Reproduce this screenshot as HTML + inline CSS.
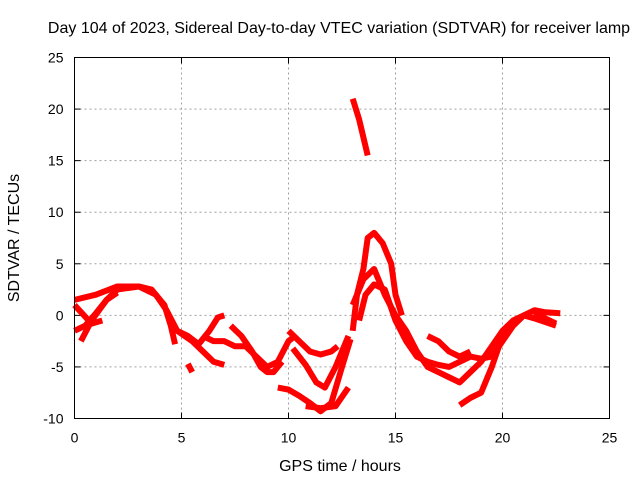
<!DOCTYPE html>
<html><head><meta charset="utf-8"><style>
body{margin:0;background:#fff}
svg{display:block;font-family:"Liberation Sans",sans-serif}
</style></head><body>
<svg id="chart" width="640" height="480" viewBox="0 0 640 480">
<rect width="640" height="480" fill="#fff"/>
<text x="339" y="33" font-size="16" text-anchor="middle">Day 104 of 2023, Sidereal Day-to-day VTEC variation (SDTVAR) for receiver lamp</text>
<text x="340" y="471" font-size="16" text-anchor="middle">GPS time / hours</text>
<text transform="translate(19,238) rotate(-90)" font-size="16" text-anchor="middle">SDTVAR / TECUs</text>
<g id="grid"></g><g id="ticks"></g><g id="series"></g>
<rect x="74.5" y="57.5" width="535" height="361" fill="none" stroke="#000" stroke-width="1"/>
</svg>
<script>
const xTicks=[0,5,10,15,20,25];
const yTicks=[-10,-5,0,5,10,15,20,25];
const s1=[[0,1.5],[1,2],[2,2.8],[3,2.8],[3.6,2.5],[4.2,1],[4.5,-1],[4.7,-2.8]];
const s2=[[0,-1.5],[0.5,-1],[1,0.2],[1.5,1.5],[2,2.5],[3,2.8],[3.8,2],[4.3,0.5],[4.8,-1.5],[5.5,-2.5],[6,-3.5],[6.5,-4.5],[7,-4.8]];
const s3=[[0,1],[0.8,-0.8],[1.3,-0.5]];
const s4=[[0.3,-2.5],[0.8,-0.5],[1.5,1.5],[2,2.2]];
const s5=[[4.8,-1.5],[5.3,-2],[5.8,-2.8],[6.3,-1.5],[6.7,-0.2],[7,0]];
const s6=[[6,-2],[6.5,-2.5],[7,-2.5],[7.5,-3],[8,-3],[8.5,-4],[9,-5],[9.5,-4.5],[10,-2.5],[10.3,-2]];
const s7=[[7.3,-1],[7.8,-2],[8.3,-3.5],[8.7,-5],[9,-5.5],[9.3,-5.5],[9.7,-4.5]];
const s8=[[5.3,-4.7],[5.5,-5.5]];
const s9=[[10,-1.5],[10.5,-2.5],[11,-3.5],[11.5,-3.8],[12,-3.5],[12.3,-3]];
const s10=[[10.2,-3.2],[10.8,-4.8],[11.3,-6.5],[11.7,-7],[12.2,-5],[12.5,-3.5],[12.8,-2]];
const s11=[[9.5,-7],[10,-7.2],[10.5,-7.8],[11,-8.5],[11.5,-9.3],[12,-8.5],[12.5,-5],[12.9,-2.3]];
const s12=[[10.8,-8.8],[11.5,-9],[12.2,-8.8],[12.8,-7]];
const s13=[[13,-1.5],[13.2,2],[13.5,4.5],[13.7,7.5],[14,8],[14.4,7],[14.8,5],[15,2],[15.3,0]];
const s14=[[13,1],[13.5,3.5],[14,4.5],[14.5,2],[15,0],[15.5,-1.5],[16,-3.5],[16.5,-5],[17,-5.5],[17.5,-6],[18,-6.5],[18.5,-5.5],[19,-4.5],[19.5,-3],[20,-1.5],[20.5,-0.5],[21,0],[21.5,0.5],[22,0.3],[22.7,0.2]];
const s15=[[13.3,-0.5],[13.6,2],[14,3],[14.5,2.5],[15,-0.5],[15.5,-2.5],[16,-4],[16.5,-4.5],[17,-4.8],[17.5,-5],[18,-4.5],[18.5,-4],[19,-4.2],[19.5,-4],[20,-2.5],[20.5,-1],[21,0],[21.5,-0.3],[22.5,-1]];
const s16=[[16.5,-2],[17,-2.5],[17.5,-3.5],[18,-4],[18.5,-3.5]];
const s17=[[18,-8.7],[18.5,-8],[19,-7.5],[19.5,-5],[20,-2],[20.5,-0.5]];
const s18=[[13,21],[13.3,19],[13.7,15.5]];
const s19=[[21.5,0.3],[22,-0.3],[22.5,-0.8]];
const allSeries=[s1,s2,s3,s4,s5,s6,s7,s8,s9,s10,s11,s12,s13,s14,s15,s16,s17,s18,s19];
const X0=74.5,X1=609.5,Y0=418.5,Y1=57.5;
const xs=v=>X0+(v-0)/25*(X1-X0);
const ys=v=>Y0-(v+10)/35*(Y0-Y1);
const NS='http://www.w3.org/2000/svg';
const grid=document.getElementById('grid'),ticks=document.getElementById('ticks'),ser=document.getElementById('series');
function mk(tag,attrs,parent){const e=document.createElementNS(NS,tag);for(const k in attrs)e.setAttribute(k,attrs[k]);parent.appendChild(e);return e;}
xTicks.forEach(t=>{const x=xs(t);
 if(t>0&&t<25){const g=mk('line',{x1:x,x2:x,y1:Y1,y2:Y0,stroke:'#a0a0a0','stroke-dasharray':'2,3'},grid);
 
 }
 mk('line',{x1:x,x2:x,y1:Y0,y2:Y0-6,stroke:'#000'},ticks);
 mk('line',{x1:x,x2:x,y1:Y1,y2:Y1+6,stroke:'#000'},ticks);
 const l=mk('text',{x:x,y:Y0+24,'font-size':14,'text-anchor':'middle'},ticks);l.textContent=t;
 
 
});
yTicks.forEach(t=>{const y=ys(t);
 if(t>-10&&t<25){const g=mk('line',{x1:X0,x2:X1,y1:y,y2:y,stroke:'#a0a0a0','stroke-dasharray':'2,3'},grid);
 
 }
 mk('line',{x1:X0,x2:X0+6,y1:y,y2:y,stroke:'#000'},ticks);
 mk('line',{x1:X1,x2:X1-6,y1:y,y2:y,stroke:'#000'},ticks);
 const l=mk('text',{x:X0-11,y:y+5,'font-size':14,'text-anchor':'end'},ticks);l.textContent=t;
 
 
});
allSeries.forEach((s,i)=>{
 const p=mk('polyline',{points:s.map(d=>xs(d[0])+','+ys(d[1])).join(' '),fill:'none',stroke:'#ff0000','stroke-width':6,'stroke-linejoin':'round','stroke-linecap':'butt'},ser);
 
 
});
</script>
</body></html>
